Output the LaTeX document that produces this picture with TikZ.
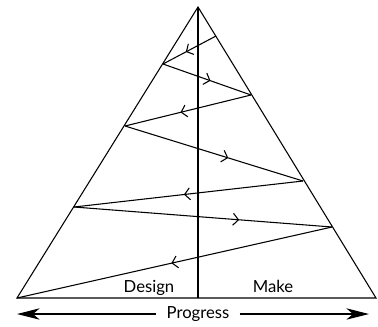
\documentclass[tikz,border=0pt]{standalone}
\usepackage{fontspec}
\setmainfont{Lato}
\usetikzlibrary{arrows.meta,decorations.markings}
\begin{document}
\begin{tikzpicture}[x=0.75pt,y=-0.75pt,
  thin line/.style={line width=0.8pt},
  zig/.style={line width=0.8pt, postaction={decorate},
    decoration={markings, mark=at position #1 with {\arrow{Straight Barb[length=4pt,width=9pt,line width=0.8pt]}}}},
  lbl/.style={font=\fontsize{12.5}{14}\selectfont, inner sep=0pt, anchor=base},
  bigarrow/.style={line width=0.8pt, -{Stealth[length=17pt,width=8.5pt,inset=5pt]}}]
\useasboundingbox (0,0) rectangle (378,326);
\coordinate (apex) at (198,7);
\coordinate (bl) at (17,298);
\coordinate (br) at (376,298);
\coordinate (bm) at (198,298);
\coordinate (r1) at (216,36);
\coordinate (l1) at (163,64);
\coordinate (r2) at (251,95);
\coordinate (l2) at (125,126);
\coordinate (r3) at (303,181);
\coordinate (l3) at (74,207);
\coordinate (r4) at (332,227);
\draw[thin line, line join=miter] (apex) -- (br) -- (bl) -- cycle;
\draw[line width=1.8pt] (apex) -- (bm);
\draw[zig=0.57] (r1) -- (l1);
\draw[zig=0.54] (l1) -- (r2);
\draw[zig=0.56] (r2) -- (l2);
\draw[zig=0.58] (l2) -- (r3);
\draw[zig=0.52] (r3) -- (l3);
\draw[zig=0.64] (l3) -- (r4);
\draw[zig=0.51] (r4) -- (bl);
\node[lbl] (design) at (149,292) {Design};
\node[lbl] (make) at (273,292) {Make};
\node[font=\fontsize{12.5}{14}\selectfont, inner xsep=7.5pt, inner ysep=0pt] (prog) at (198,314) {Progress};
\coordinate (pl) at (17,314);
\coordinate (pr) at (369,314);
\draw[bigarrow] (prog.west) -- (pl);
\draw[bigarrow] (prog.east) -- (pr);
\end{tikzpicture}
\end{document}
